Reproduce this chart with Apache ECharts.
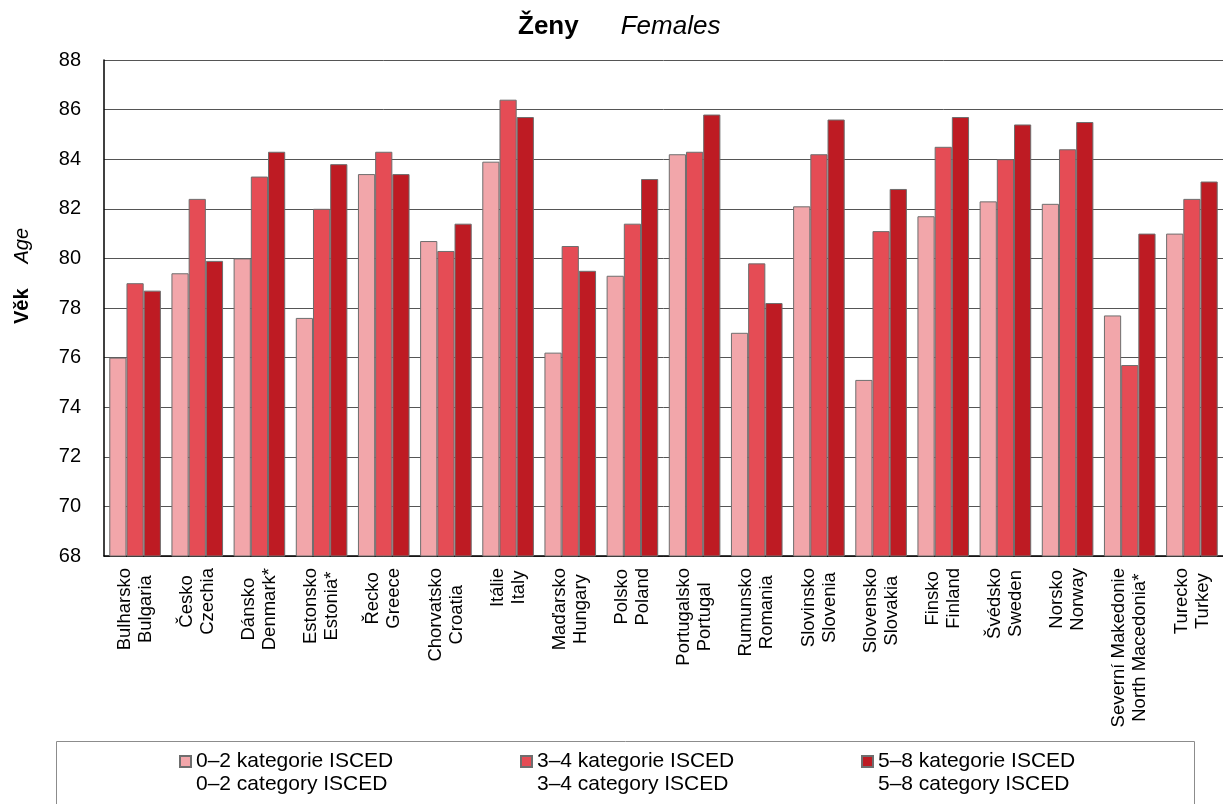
<!DOCTYPE html>
<html>
<head>
<meta charset="utf-8" />
<script src="https://cdn.jsdelivr.net/npm/echarts@6/dist/echarts.min.js"></script>
<style>
  html, body { margin: 0; padding: 0; background: #fff; }
  #main { width: 1223px; height: 804px; }
</style>
</head>
<body>
<div id="main"></div>
<script>
// categories (Czech / English)
const countriesCz = ["Bulharsko", "Česko", "Dánsko", "Estonsko", "Řecko", "Chorvatsko", "Itálie", "Maďarsko", "Polsko",
  "Portugalsko", "Rumunsko", "Slovinsko", "Slovensko", "Finsko", "Švédsko", "Norsko", "Severní Makedonie", "Turecko"];
const countriesEn = ["Bulgaria", "Czechia", "Denmark*", "Estonia*", "Greece", "Croatia", "Italy", "Hungary", "Poland",
  "Portugal", "Romania", "Slovenia", "Slovakia", "Finland", "Sweden", "Norway", "North Macedonia*", "Turkey"];

// series values (age)
const isced02 = [76.0, 79.4, 80.0, 77.6, 83.4, 80.7, 83.9, 76.2, 79.3, 84.2, 77.0, 82.1, 75.1, 81.7, 82.3, 82.2, 77.7, 81.0];
const isced34 = [79.0, 82.4, 83.3, 82.0, 84.3, 80.3, 86.4, 80.5, 81.4, 84.3, 79.8, 84.2, 81.1, 84.5, 84.0, 84.4, 75.7, 82.4];
const isced58 = [78.7, 79.9, 84.3, 83.8, 83.4, 81.4, 85.7, 79.5, 83.2, 85.8, 78.2, 85.6, 82.8, 85.7, 85.4, 85.5, 81.0, 83.1];

const seriesCz = ["0–2 kategorie ISCED", "3–4 kategorie ISCED", "5–8 kategorie ISCED"];
const seriesEn = ["0–2 category ISCED", "3–4 category ISCED", "5–8 category ISCED"];
const colors = ["#F2A6AA", "#E54C55", "#BE1B23"];

const yMin = 68;
const yMax = 88;
const yStep = 2;

const font = "'Liberation Sans', Arial, sans-serif";

function barSeries(i, values) {
  return {
    name: seriesCz[i],
    type: "bar",
    data: values,
    barGap: "0%",
    barCategoryGap: "17%",
    itemStyle: {
      color: colors[i],
      borderColor: "#6E6E6E",
      borderWidth: 1,
    },
  };
}

const option = {
  animation: false,
  textStyle: { fontFamily: font, color: "#000" },
  title: {
    text: "{b|Ženy}{s|}{i|Females}",
    left: 513,
    top: 9,
    textStyle: {
      rich: {
        b: { fontSize: 26, fontWeight: "bold", fontFamily: font, color: "#000" },
        s: { width: 42 },
        i: { fontSize: 26, fontWeight: "normal", fontStyle: "italic", fontFamily: font, color: "#000" },
      },
    },
  },
  legend: {
    left: 179,
    top: 727,
    padding: 0,
    icon: "rect",
    itemWidth: 11,
    itemHeight: 11,
    itemGap: 124,
    itemTextGap: 4,
    data: seriesCz,
    // blank first line keeps the Czech line level with the icon
    formatter: function (name) {
      return "\n" + name + "\n" + seriesEn[seriesCz.indexOf(name)];
    },
    textStyle: {
      fontFamily: font,
      fontSize: 21,
      lineHeight: 23,
      width: 200,
      color: "#000",
    },
  },
  graphic: [
    {
      type: "rect",
      left: 54,
      top: 739,
      shape: { width: 1138, height: 80 },
      style: { fill: "none", stroke: "#8C8C8C", lineWidth: 1 },
      z: -1,
    },
  ],
  grid: {
    left: 104,
    top: 60,
    width: 1121,
    bottom: 248,
  },
  xAxis: {
    type: "category",
    data: countriesCz,
    axisLine: { show: true, lineStyle: { color: "#000", width: 1.5 } },
    axisTick: { show: false },
    axisLabel: {
      interval: 0,
      rotate: 90,
      margin: 12,
      formatter: function (value, idx) {
        return "{c|" + value + "}\n{c|" + countriesEn[idx] + "}";
      },
      rich: {
        c: { align: "center", fontSize: 18.5, lineHeight: 21, fontFamily: font, color: "#000" },
      },
    },
  },
  yAxis: {
    type: "value",
    min: yMin,
    max: yMax,
    interval: yStep,
    name: "{s|}{b|Věk}{g|}{i|Age}",
    nameLocation: "middle",
    nameRotate: 90,
    nameGap: 72,
    nameTextStyle: {
      rich: {
        s: { width: 64 },
        b: { fontSize: 20, fontWeight: "bold", fontFamily: font, color: "#000" },
        g: { width: 25 },
        i: { fontSize: 20, fontStyle: "italic", fontFamily: font, color: "#000" },
      },
    },
    axisLine: { show: true, lineStyle: { color: "#000", width: 1.5 } },
    axisTick: { show: false },
    axisLabel: { fontSize: 20, margin: 23, color: "#000", fontFamily: font },
    splitLine: { show: true, lineStyle: { color: "#555", width: 1 } },
  },
  series: [barSeries(0, isced02), barSeries(1, isced34), barSeries(2, isced58)],
};

const chart = echarts.init(document.getElementById("main"));
chart.setOption(option);
window.onresize = function () {
  chart.resize();
};
</script>
</body>
</html>
